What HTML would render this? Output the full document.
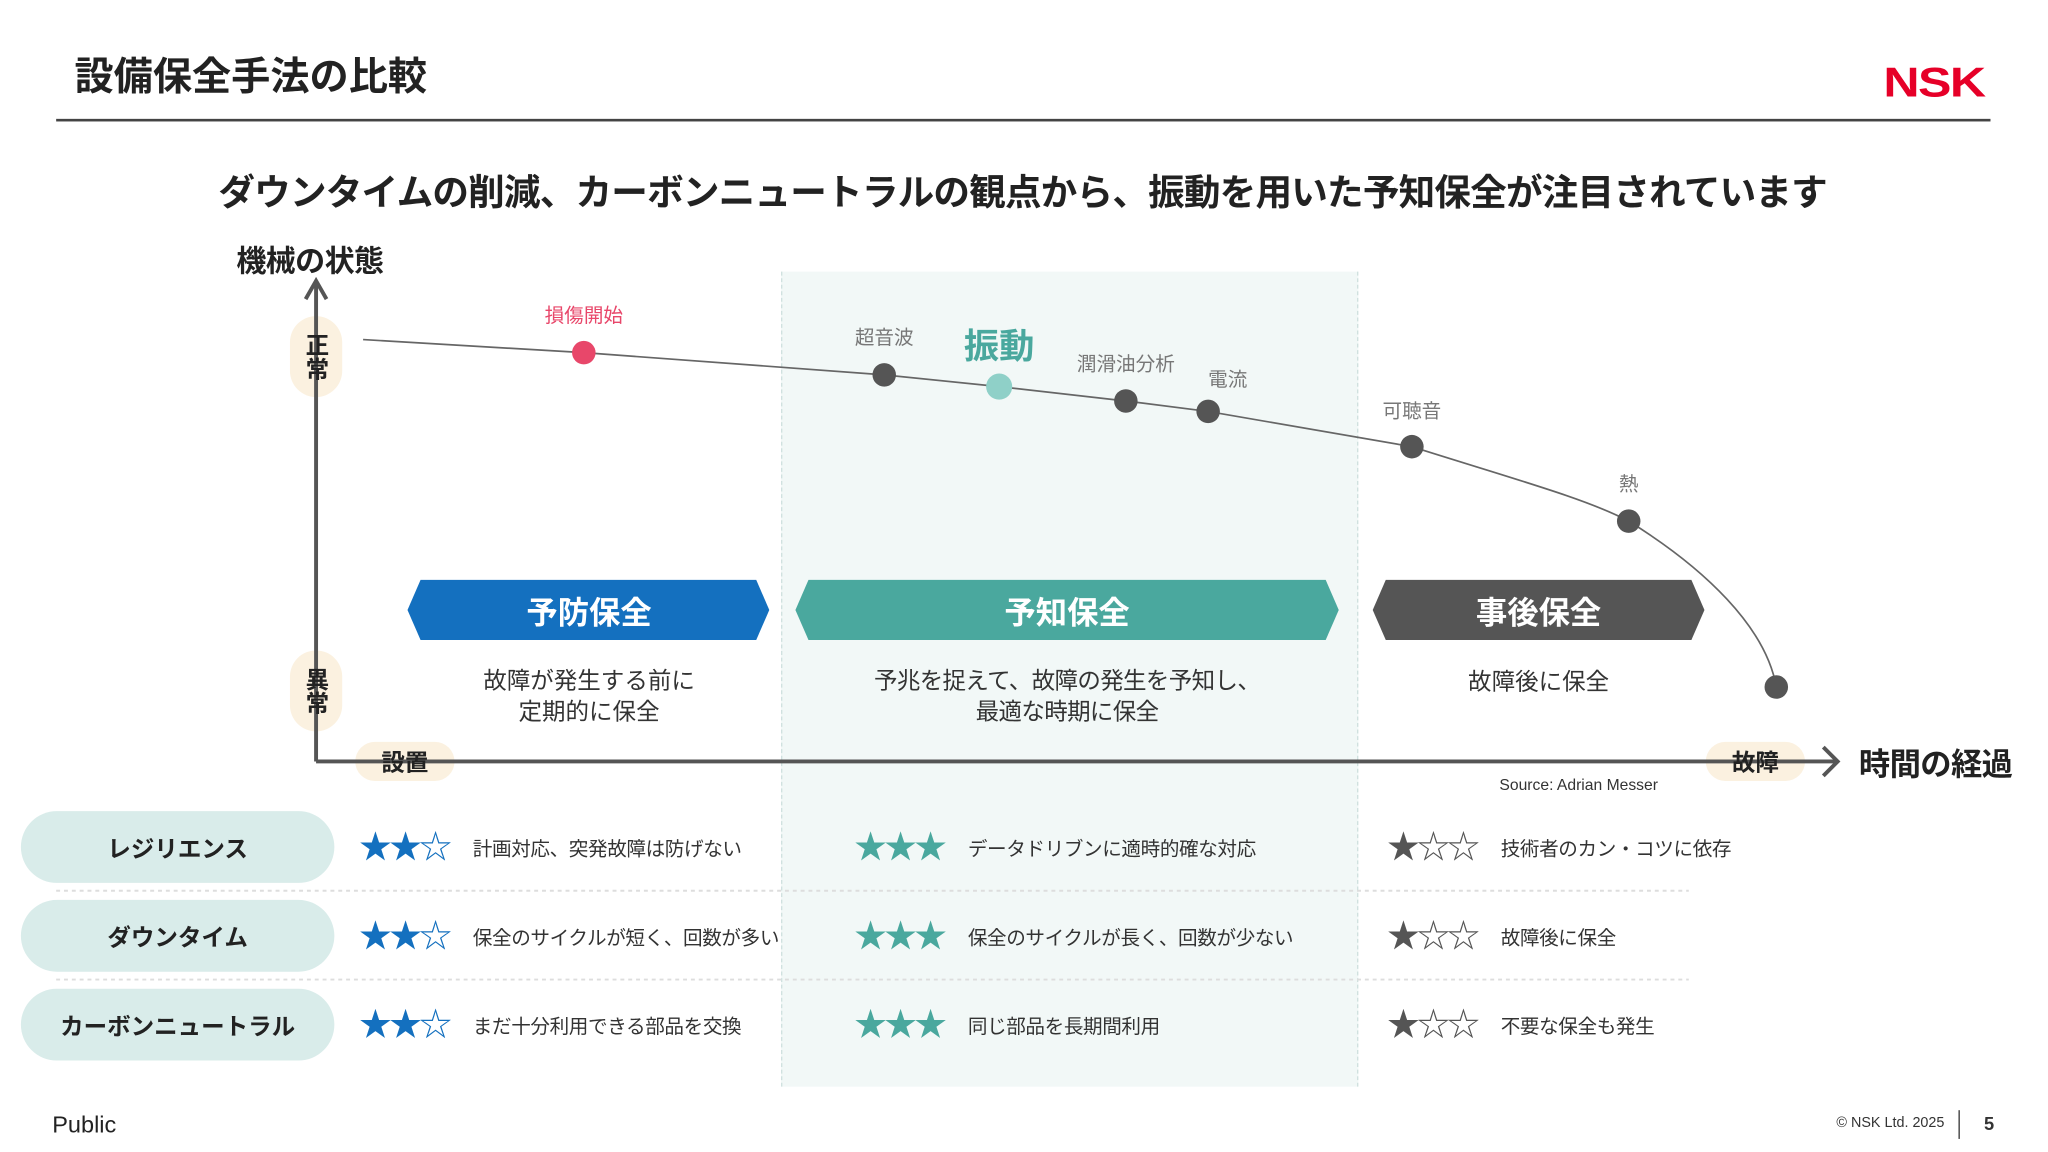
<!DOCTYPE html>
<html><head><meta charset="utf-8"><style>
html,body{margin:0;padding:0;background:#fff;}
body{width:2048px;height:1152px;overflow:hidden;}
#w{width:1568px;height:882px;transform:scale(1.3061);transform-origin:0 0;position:relative;font-family:"Liberation Sans","Noto Sans CJK JP",sans-serif;color:#222;}
.a{position:absolute;white-space:nowrap;}
.c{transform:translate(-50%,-50%);}
.pill{position:absolute;background:#d9ecea;border-radius:28px;left:16px;width:240px;height:55px;display:flex;align-items:center;justify-content:center;font-weight:bold;font-size:18px;color:#222;}
.st{font-size:25px;letter-spacing:-2px;}
.t{font-size:15px;color:#333;letter-spacing:-0.3px;}
</style></head><body><div id="w">
<div class="a" style="left:57px;top:34px;font-size:30px;font-weight:bold;color:#222;">設備保全手法の比較</div>
<div class="a" style="left:1442px;top:45px;font-size:32px;font-weight:900;color:#e60028;letter-spacing:-1px;transform:scaleX(1.2);transform-origin:left;">NSK</div>
<div class="a" style="left:43px;top:91px;width:1481px;height:1.5px;background:#444;"></div>
<div class="a c" style="left:783px;top:146px;font-size:28px;font-weight:bold;letter-spacing:-0.6px;">ダウンタイムの削減、カーボンニュートラルの観点から、振動を用いた予知保全が注目されています</div>
<div class="a" style="left:598px;top:208px;width:440px;height:624px;background:#f2f8f7;border-left:1px dashed #cfe0de;border-right:1px dashed #cfe0de;"></div>
<div class="a" style="left:181px;top:181px;font-size:23px;font-weight:bold;letter-spacing:-0.5px;">機械の状態</div>
<div class="a" style="left:222px;top:242px;width:40px;height:62px;background:#fbf1e0;border-radius:20px;"></div>
<div class="a" style="left:222px;top:498px;width:40px;height:62px;background:#fbf1e0;border-radius:20px;"></div>
<div class="a" style="left:272px;top:568px;width:76px;height:30px;background:#fbf1e0;border-radius:15px;"></div>
<div class="a" style="left:1306px;top:568px;width:76px;height:30px;background:#fbf1e0;border-radius:15px;"></div>
<svg class="a" style="left:0;top:0" width="1568" height="882">
<path d="M242,583 V217 M234,229 L242,215 L250,229" stroke="#555" stroke-width="3" fill="none"/>
<path d="M242,583 H1405 M1396,572 L1407,583 L1396,594" stroke="#555" stroke-width="3" fill="none"/>
<path d="M278,260 L447,270 L677,287 L765,296 L862,307 L925,315 L1081,342 C1160,367 1215,382 1247,399 C1305,435 1352,480 1360,526" stroke="#666" stroke-width="1.3" fill="none"/>
<circle cx="447" cy="270" r="9" fill="#e8476a"/>
<circle cx="677" cy="287" r="9" fill="#555"/>
<circle cx="765" cy="296" r="10" fill="#8fd0c8"/>
<circle cx="862" cy="307" r="9" fill="#555"/>
<circle cx="925" cy="315" r="9" fill="#555"/>
<circle cx="1081" cy="342" r="9" fill="#555"/>
<circle cx="1247" cy="399" r="9" fill="#555"/>
<circle cx="1360" cy="526" r="9" fill="#555"/>
<polygon points="312,467 322,444 579,444 589,467 579,490 322,490" fill="#1470bf"/>
<polygon points="609,467 619,444 1015,444 1025,467 1015,490 619,490" fill="#4aa89e"/>
<polygon points="1051,467 1061,444 1295,444 1305,467 1295,490 1061,490" fill="#555"/>
<path d="M43,682 H1293 M43,750 H1293" stroke="#ddd" stroke-width="1.5" stroke-dasharray="3,3"/>
<line x1="1500" y1="850" x2="1500" y2="872" stroke="#333" stroke-width="1"/>
</svg>
<div class="a c" style="left:242px;top:273px;font-size:18px;font-weight:bold;writing-mode:vertical-rl;">正常</div>
<div class="a c" style="left:242px;top:529px;font-size:18px;font-weight:bold;writing-mode:vertical-rl;">異常</div>
<div class="a c" style="left:310px;top:583px;font-size:18px;font-weight:bold;">設置</div>
<div class="a c" style="left:1344px;top:583px;font-size:18px;font-weight:bold;">故障</div>
<div class="a c" style="left:1482px;top:583px;font-size:24px;font-weight:bold;letter-spacing:-0.5px;">時間の経過</div>
<div class="a c" style="left:447px;top:241px;font-size:15px;color:#e8476a;">損傷開始</div>
<div class="a c" style="left:677px;top:258px;font-size:15px;color:#777;">超音波</div>
<div class="a c" style="left:765px;top:263px;font-size:27px;font-weight:bold;color:#4aa89e;">振動</div>
<div class="a c" style="left:862px;top:278px;font-size:15px;color:#777;">潤滑油分析</div>
<div class="a c" style="left:940px;top:290px;font-size:15px;color:#777;">電流</div>
<div class="a c" style="left:1081px;top:314px;font-size:15px;color:#777;">可聴音</div>
<div class="a c" style="left:1247px;top:370px;font-size:15px;color:#777;">熱</div>
<div class="a c" style="left:451px;top:467px;font-size:24px;font-weight:bold;color:#fff;">予防保全</div>
<div class="a c" style="left:817px;top:467px;font-size:24px;font-weight:bold;color:#fff;">予知保全</div>
<div class="a c" style="left:1178px;top:467px;font-size:24px;font-weight:bold;color:#fff;">事後保全</div>
<div class="a c" style="left:451px;top:533px;font-size:18px;color:#333;text-align:center;line-height:24px;">故障が発生する前に<br>定期的に保全</div>
<div class="a c" style="left:817px;top:533px;font-size:18px;color:#333;text-align:center;line-height:24px;letter-spacing:-0.5px;">予兆を捉えて、故障の発生を予知し、<br>最適な時期に保全</div>
<div class="a c" style="left:1178px;top:521px;font-size:18px;color:#333;">故障後に保全</div>
<div class="a" style="left:1148px;top:594px;font-size:12px;color:#333;">Source: Adrian Messer</div>
<div class="pill" style="top:621px;">レジリエンス</div>
<div class="pill" style="top:689px;">ダウンタイム</div>
<div class="pill" style="top:757px;">カーボンニュートラル</div>
<div class="a st" style="left:275px;top:629px;color:#1470bf;">★★☆</div>
<div class="a st" style="left:275px;top:697px;color:#1470bf;">★★☆</div>
<div class="a st" style="left:275px;top:765px;color:#1470bf;">★★☆</div>
<div class="a st" style="left:654px;top:629px;color:#4aa89e;">★★★</div>
<div class="a st" style="left:654px;top:697px;color:#4aa89e;">★★★</div>
<div class="a st" style="left:654px;top:765px;color:#4aa89e;">★★★</div>
<div class="a st" style="left:1062px;top:629px;color:#555;">★☆☆</div>
<div class="a st" style="left:1062px;top:697px;color:#555;">★☆☆</div>
<div class="a st" style="left:1062px;top:765px;color:#555;">★☆☆</div>
<div class="a t" style="left:362px;top:639px;">計画対応、突発故障は防げない</div>
<div class="a t" style="left:362px;top:707px;">保全のサイクルが短く、回数が多い</div>
<div class="a t" style="left:362px;top:775px;">まだ十分利用できる部品を交換</div>
<div class="a t" style="left:741px;top:639px;">データドリブンに適時的確な対応</div>
<div class="a t" style="left:741px;top:707px;">保全のサイクルが長く、回数が少ない</div>
<div class="a t" style="left:741px;top:775px;">同じ部品を長期間利用</div>
<div class="a t" style="left:1149px;top:639px;">技術者のカン・コツに依存</div>
<div class="a t" style="left:1149px;top:707px;">故障後に保全</div>
<div class="a t" style="left:1149px;top:775px;">不要な保全も発生</div>
<div class="a" style="left:40px;top:851px;font-size:18px;color:#222;">Public</div>
<div class="a" style="left:1406px;top:854px;font-size:11px;color:#333;">© NSK Ltd. 2025</div>
<div class="a" style="left:1519px;top:852px;font-size:14px;font-weight:bold;color:#333;">5</div>
</div></body></html>
